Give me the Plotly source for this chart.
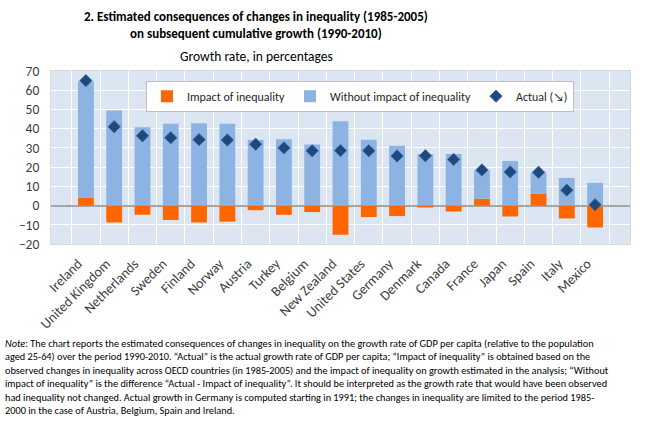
import plotly.graph_objects as go

countries = ["Ireland", "United Kingdom", "Netherlands", "Sweden", "Finland", "Norway",
             "Austria", "Turkey", "Belgium", "New Zealand", "United States", "Germany",
             "Denmark", "Canada", "France", "Japan", "Spain", "Italy", "Mexico"]
impact = [4.2, -8.8, -4.8, -7.5, -8.8, -8.4, -2.4, -4.8, -3.4, -15.2, -6.0, -5.5,
          -1.0, -3.1, 3.5, -5.7, 6.1, -6.7, -11.4]
without = [60.5, 49.4, 40.7, 42.5, 42.8, 42.5, 34.1, 34.5, 31.8, 43.9, 34.2, 31.1,
           26.8, 26.8, 14.9, 23.2, 11.1, 14.4, 11.8]
actual = [65.0, 41.0, 36.3, 35.3, 34.3, 34.1, 31.9, 30.0, 28.5, 28.6, 28.5, 25.8,
          25.9, 24.0, 18.5, 17.5, 17.3, 8.0, 0.4]
y_ticks = [-20, -10, 0, 10, 20, 30, 40, 50, 60, 70]

FONT = "Carlito, 'Liberation Sans Narrow', 'DejaVu Sans Condensed', sans-serif"

fig = go.Figure()
fig.add_trace(go.Bar(x=countries, y=impact, name="Impact of inequality",
                     marker=dict(color="#ff6600", line_width=0)))
fig.add_trace(go.Bar(x=countries, y=without, name="Without impact of inequality",
                     marker=dict(color="#8db3e2", line_width=0)))
fig.add_trace(go.Scatter(x=countries, y=actual, name="Actual (↘)", mode="markers",
                         marker=dict(symbol="diamond", size=9.5, color="#1f497d",
                                     line=dict(color="#3a6aa3", width=0.8))))

note = ("<i>Note</i>: The chart reports the estimated consequences of changes in inequality on the growth rate of GDP per capita (relative to the population<br>"
        "aged 25-64) over the period 1990-2010. \u201cActual\u201d is the actual growth rate of GDP per capita; \u201cImpact of inequality\u201d is obtained based on the<br>"
        "observed changes in inequality across OECD countries (in 1985-2005) and the impact of inequality on growth estimated in the analysis; \u201cWithout<br>"
        "impact of inequality\u201d is the difference \u201cActual - Impact of inequality\u201d. It should be interpreted as the growth rate that would have been observed<br>"
        "had inequality not changed. Actual growth in Germany is computed starting in 1991; the changes in inequality are limited to the period 1985-<br>"
        "2000 in the case of Austria, Belgium, Spain and Ireland.")

fig.update_layout(
    width=653, height=430,
    margin=dict(l=51, r=23, t=71, b=186),
    paper_bgcolor="white", plot_bgcolor="#dce6f2",
    barmode="relative", bargap=0.44,
    font=dict(family=FONT, size=12, color="#404040"),
    showlegend=True,
    legend=dict(orientation="h", x=0.164, y=0.944, xanchor="left", yanchor="top",
                bgcolor="white", bordercolor="#bfbfbf", borderwidth=1,
                font=dict(size=12, color="#262626"), traceorder="normal",
                itemwidth=30, tracegroupgap=0),
    xaxis=dict(type="category", tickangle=-45, tickson="boundaries",
               showgrid=True, gridcolor="white", gridwidth=1, ticks="",
               tickfont=dict(size=14, color="#404040"), ticklabelstandoff=5,
               ticklabelshift=-8,
               showline=True, linecolor="#d9d9d9", mirror=True),
    yaxis=dict(range=[-20, 70], tickvals=y_ticks, showgrid=True, gridcolor="white",
               gridwidth=1, zeroline=True, zerolinecolor="#a6a6a6", zerolinewidth=1.5,
               tickfont=dict(size=13.5, color="#404040"), ticks="", ticklabelstandoff=8,
               showline=True, linecolor="#d9d9d9", mirror=True),
    annotations=[
        dict(text="<b>2. Estimated consequences of changes in inequality (1985-2005)<br>on subsequent cumulative growth (1990-2010)</b>",
             xref="paper", yref="paper", x=(256 - 51) / 579, y=(430 - 7 - 186) / 173 + 0.0,
             xanchor="center", yanchor="top", showarrow=False,
             font=dict(size=13, color="#000000", family=FONT), align="center"),
        dict(text="Growth rate, in percentages", xref="paper", yref="paper",
             x=(256 - 51) / 579, y=(430 - 46 - 186) / 173, xanchor="center", yanchor="top",
             showarrow=False, font=dict(size=13.5, color="#000000", family=FONT)),
        dict(text=note, xref="paper", yref="paper", x=(3 - 51) / 579,
             y=(430 - 335 - 186) / 173, xanchor="left", yanchor="top", showarrow=False,
             align="left", font=dict(size=10.3, color="#000000", family=FONT)),
    ],
)

fig.write_html("out.html")
